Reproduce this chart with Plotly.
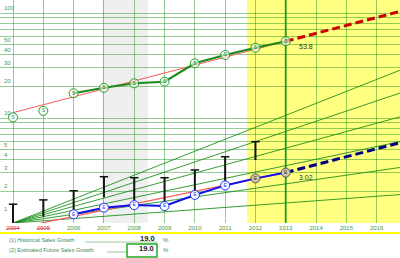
import numpy as np
import plotly.graph_objects as go

# ---------------- data ----------------
years_all = [2004, 2005, 2006, 2007, 2008, 2009, 2010, 2011, 2012, 2013]
sales = [10.15, 11.7, 17.2, 19.4, 21.4, 22.2, 33.2, 39.8, 46.7, 53.8]
excluded_years = [2004, 2005]

eps_years = [2006, 2007, 2008, 2009, 2010, 2011, 2012, 2013]
eps = [1.21, 1.40, 1.48, 1.45, 1.85, 2.28, 2.66, 3.02]

price_years = [2004, 2005, 2006, 2007, 2008, 2009, 2010, 2011, 2012]
price_high = [1.51, 1.66, 2.03, 2.76, 2.70, 2.70, 3.20, 4.28, 5.95]
price_low = [1.00, 1.15, 1.28, 1.76, 1.60, 1.48, 1.99, 2.47, 3.98]

hist_sales_growth = 19.0
future_sales_growth = 19.0
hist_eps_growth = 14.7
future_eps_growth = 19.0
guide_rates = [5, 10, 15, 20, 25, 30]

tick_years = list(range(2004, 2017))
grid_vals = [1, 2, 3, 4, 5, 6, 7, 8, 9, 10, 20, 30, 40, 50, 60, 70, 80, 90, 100]
ylabel_vals = [1, 2, 3, 4, 5, 10, 20, 30, 40, 50, 100]

# ---------------- geometry ----------------
W, H = 400, 258
PLOT_BOTTOM = 223
X0, X1 = 2003.57, 2016.77
last = years_all[-1]
end_year = 2017.2


def px(xp):
    return xp / W


def py(yp):
    return (PLOT_BOTTOM - yp) / PLOT_BOTTOM


fig = go.Figure()

# guide (fan) lines
for r in guide_rates:
    xs = [2004, end_year]
    ys = [1.0, (1 + r / 100) ** (end_year - 2004)]
    fig.add_trace(go.Scatter(x=xs, y=ys, mode="lines",
                             line=dict(color="rgba(20,140,20,0.85)", width=1),
                             hoverinfo="skip", showlegend=False))

# historical trend lines (thin red)
g_s = 1 + hist_sales_growth / 100
fig.add_trace(go.Scatter(x=[2004, last], y=[sales[-1] / g_s ** (last - 2004), sales[-1]],
                         mode="lines", line=dict(color="#ff5a5a", width=1), showlegend=False))
g_e = 1 + hist_eps_growth / 100
fig.add_trace(go.Scatter(x=[2004, last], y=[eps[-1] / g_e ** (last - 2004), eps[-1]],
                         mode="lines", line=dict(color="#ff5a5a", width=1.2), showlegend=False))

# price range bars
bx, by = [], []
for yr, lo, hi in zip(price_years, price_low, price_high):
    bx += [yr, yr, None]
    by += [lo, hi, None]
fig.add_trace(go.Scatter(x=bx, y=by, mode="lines", line=dict(color="#111111", width=2),
                         showlegend=False))
fig.add_trace(go.Scatter(x=price_years, y=price_high, mode="markers",
                         marker=dict(symbol="line-ew", size=6,
                                     line=dict(color="#111111", width=1.5)),
                         showlegend=False))

# future projections (dashed)
gf_s = 1 + future_sales_growth / 100
fig.add_trace(go.Scatter(x=[last, end_year], y=[sales[-1], sales[-1] * gf_s ** (end_year - last)],
                         mode="lines", line=dict(color="#cc0000", width=3, dash="8px,4px"),
                         showlegend=False))
gf_e = 1 + future_eps_growth / 100
fig.add_trace(go.Scatter(x=[last, end_year], y=[eps[-1], eps[-1] * gf_e ** (end_year - last)],
                         mode="lines", line=dict(color="#000080", width=3, dash="8px,4px"),
                         showlegend=False))

# sales line (used years)
used = [(x, v) for x, v in zip(years_all, sales) if x not in excluded_years]
exc = [(x, v) for x, v in zip(years_all, sales) if x in excluded_years]
fig.add_trace(go.Scatter(x=[u[0] for u in used], y=[u[1] for u in used],
                         mode="lines+markers+text", text=["S"] * len(used),
                         textposition="middle center",
                         textfont=dict(size=5, color="#1a8a1a"),
                         line=dict(color="#1a8a1a", width=2),
                         marker=dict(size=9, color="rgba(255,255,255,0.6)",
                                     line=dict(color="#22a022", width=1)),
                         showlegend=False))
fig.add_trace(go.Scatter(x=[u[0] for u in exc], y=[u[1] for u in exc],
                         mode="markers+text", text=["S"] * len(exc),
                         textposition="middle center",
                         textfont=dict(size=5, color="#1a8a1a"),
                         marker=dict(size=9, color="white",
                                     line=dict(color="#22a022", width=1)),
                         showlegend=False))

# EPS line
e_fill = ["white" if y < 2012 else "#c9c9a8" for y in eps_years]
e_line = ["#2030ff" if y < 2012 else "#555555" for y in eps_years]
e_txt = ["#2030ff" if y < 2012 else "#333333" for y in eps_years]
fig.add_trace(go.Scatter(x=eps_years, y=eps, mode="lines+markers+text",
                         text=["E"] * len(eps_years), textposition="middle center",
                         textfont=dict(size=5, color=e_txt),
                         line=dict(color="#1010ee", width=2),
                         marker=dict(size=9, color=e_fill, line=dict(color=e_line, width=1)),
                         showlegend=False))

# value labels
fig.add_annotation(x=last, y=np.log10(sales[-1]), text=f"{sales[-1]:.1f}", showarrow=False,
                   xanchor="left", xshift=11, yshift=-5, font=dict(size=7, color="#333333"))
fig.add_annotation(x=last, y=np.log10(eps[-1]), text=f"{eps[-1]:.2f}", showarrow=False,
                   xanchor="left", xshift=11, yshift=-5, font=dict(size=7, color="#333333"))

# y-axis labels (inside, above their grid line)
for v in ylabel_vals:
    fig.add_annotation(xref="paper", yref="y", x=px(2), y=np.log10(v), text=str(v),
                       showarrow=False, xanchor="left", yanchor="middle",
                       yshift=14 if v == 1 else 5,
                       font=dict(size=6, color="#4a9a3a"))

# background regions
fig.add_shape(type="rect", xref="x", yref="paper", x0=2006.95, x1=2008.45, y0=0, y1=1,
              fillcolor="#efefef", line_width=0, layer="below")
fig.add_shape(type="rect", xref="x", yref="paper", x0=2011.72, x1=end_year, y0=0, y1=1,
              fillcolor="#ffff80", line_width=0, layer="below")
# emphasised last-historical-year line
fig.add_shape(type="line", xref="x", yref="paper", x0=last, x1=last, y0=0, y1=1,
              line=dict(color="rgba(30,140,30,0.8)", width=2), layer="below")

# bottom yellow rule
fig.add_shape(type="line", xref="paper", yref="paper", x0=0, x1=1, y0=py(233), y1=py(233),
              line=dict(color="#ffff00", width=2))

# growth-rate legend rows
leg_color = "#3d8a55"
SH = -5
fig.add_annotation(xref="paper", yref="paper", x=px(7), y=py(240), yshift=SH,
                   text="(1) Historical Sales Growth", showarrow=False, xanchor="left",
                   font=dict(size=5.5, color=leg_color, family="Arial"))
fig.add_shape(type="line", xref="paper", yref="paper", x0=px(85), x1=px(157),
              y0=py(242), y1=py(242), line=dict(color="#9cc89c", width=1))
fig.add_annotation(xref="paper", yref="paper", x=px(157), y=py(240), yshift=SH,
                   text=f"<b>{hist_sales_growth:.1f}</b>", showarrow=False, xanchor="right",
                   font=dict(size=7.5, color="#222222", family="Arial"))
fig.add_annotation(xref="paper", yref="paper", x=px(161), y=py(240), yshift=SH, text="%",
                   showarrow=False, xanchor="left", font=dict(size=6, color=leg_color))

fig.add_annotation(xref="paper", yref="paper", x=px(7), y=py(250), yshift=SH,
                   text="(2) Estimated Future Sales Growth", showarrow=False, xanchor="left",
                   font=dict(size=5.5, color=leg_color, family="Arial"))
fig.add_shape(type="line", xref="paper", yref="paper", x0=px(107), x1=px(127),
              y0=py(252), y1=py(252), line=dict(color="#9cc89c", width=1))
fig.add_shape(type="rect", xref="paper", yref="paper", x0=px(127), x1=px(157),
              y0=py(257), y1=py(244), line=dict(color="#22aa22", width=1.5),
              fillcolor="white")
fig.add_annotation(xref="paper", yref="paper", x=px(156), y=py(250), yshift=SH,
                   text=f"<b>{future_sales_growth:.1f}</b>", showarrow=False, xanchor="right",
                   font=dict(size=7.5, color="#222222", family="Arial"))
fig.add_annotation(xref="paper", yref="paper", x=px(161), y=py(250), yshift=SH, text="%",
                   showarrow=False, xanchor="left", font=dict(size=6, color=leg_color))

xtick_text = [f'<span style="color:#e03030"><s>{y}</s></span>' if y in excluded_years
              else str(y) for y in tick_years]

fig.update_layout(
    width=W, height=H, margin=dict(l=0, r=0, t=0, b=H - PLOT_BOTTOM),
    paper_bgcolor="white", plot_bgcolor="white", showlegend=False,
    font=dict(family="Arial"),
    xaxis=dict(range=[X0, X1], tickmode="array", tickvals=tick_years, ticktext=xtick_text,
               showgrid=True, gridcolor="rgba(20,140,20,0.45)", gridwidth=1,
               zeroline=False, showline=False, ticks="",
               tickfont=dict(size=6, color="#4a9a3a"), fixedrange=True),
    yaxis=dict(type="log", range=[0, 2.124], tickmode="array", tickvals=grid_vals,
               showticklabels=False,
               showgrid=True, gridcolor="rgba(20,140,20,0.45)", gridwidth=1,
               zeroline=False, showline=False, ticks="", fixedrange=True),
)

fig.write_html("out.html")
